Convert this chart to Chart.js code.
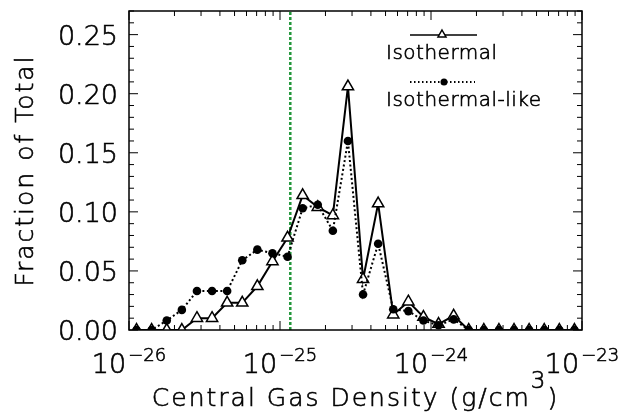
<!DOCTYPE html>
<html>
<head>
<meta charset="utf-8">
<script src="https://cdn.jsdelivr.net/npm/chart.js@4/dist/chart.umd.min.js"></script>
<style>
  html, body { margin: 0; padding: 0; background: #fff; }
</style>
</head>
<body>
<canvas id="c" width="628" height="414"></canvas>
<script>
// log10 of the bin centres (0.1 dex bins), g/cm^3
const binLog = [-25.95, -25.85, -25.75, -25.65, -25.55, -25.45, -25.35, -25.25, -25.15, -25.05,
                -24.95, -24.85, -24.75, -24.65, -24.55, -24.45, -24.35, -24.25, -24.15, -24.05,
                -23.95, -23.85, -23.75, -23.65, -23.55, -23.45, -23.35, -23.25, -23.15, -23.05];
const isothermal = [0, 0, 0, 0, 0.010, 0.010, 0.023, 0.023, 0.037, 0.058,
                    0.078, 0.114, 0.104, 0.097, 0.206, 0.043, 0.107, 0.013, 0.024, 0.011,
                    0.005, 0.012, 0, 0, 0, 0, 0, 0, 0, 0];
const isothermalLike = [0, 0, 0.008, 0.017, 0.033, 0.033, 0.033, 0.059, 0.068, 0.065,
                        0.062, 0.103, 0.106, 0.084, 0.160, 0.030, 0.073, 0.0175, 0.016, 0.008,
                        0.004, 0.009, 0, 0, 0, 0, 0, 0, 0, 0];
const densityCut = 1.17e-25;
const xDecades = [-26, -25, -24, -23];
const yMin = 0, yMax = 0.27, yStep = 0.05;

const FONT = "'DejaVu Sans'";
const W = '200 ';   // thin strokes like the IDL vector font
Chart.defaults.font.family = FONT;

const pts = arr => binLog.map((l, i) => ({ x: Math.pow(10, l), y: arr[i] }));

// fill + a hairline stroke so the extra-light face reads a bit darker
function text(ctx, s, x, y) {
  ctx.fillText(s, x, y);
  ctx.strokeText(s, x, y);
}

// box with inward ticks, IDL style, plus all labels, titles and legend
const idlAxes = {
  id: 'idlAxes',
  afterDatasetsDraw(chart) {
    const { ctx, chartArea: a, scales: { x, y } } = chart;
    ctx.save();
    ctx.strokeStyle = '#000';
    ctx.lineWidth = 1.5;
    ctx.strokeRect(a.left, a.top, a.right - a.left, a.bottom - a.top);

    ctx.lineWidth = 1;
    ctx.beginPath();
    for (let k = 0; k <= 27; k++) {
      const py = y.getPixelForValue(k / 100);
      const len = k % 5 === 0 ? 9 : 5;
      ctx.moveTo(a.left, py); ctx.lineTo(a.left + len, py);
      ctx.moveTo(a.right, py); ctx.lineTo(a.right - len, py);
    }
    for (let d = -26; d <= -23; d++) {
      for (let m = 1; m <= 9; m++) {
        if (d === -23 && m > 1) break;
        const px = x.getPixelForValue(m * Math.pow(10, d));
        const len = m === 1 ? 9 : 5;
        ctx.moveTo(px, a.bottom); ctx.lineTo(px, a.bottom - len);
        ctx.moveTo(px, a.top); ctx.lineTo(px, a.top + len);
      }
    }
    ctx.stroke();

    ctx.fillStyle = '#000';
    ctx.lineWidth = 0.6;
    ctx.textBaseline = 'alphabetic';

    // y tick labels from the scale's own ticks
    ctx.textAlign = 'right';
    ctx.font = W + '27px ' + FONT;
    y.ticks.forEach(t => {
      const py = y.getPixelForValue(t.value);
      text(ctx, t.value.toFixed(2), 118, py + 10);
    });

    // x tick labels: 10 with superscript exponent
    ctx.textAlign = 'left';
    xDecades.forEach(d => {
      const px = x.getPixelForValue(Math.pow(10, d));
      const exp = '\u2212' + Math.abs(d);
      ctx.font = W + '27px ' + FONT;
      const w1 = ctx.measureText('10').width;
      ctx.font = W + '18px ' + FONT;
      const w2 = ctx.measureText(exp).width;
      const x0 = px - (w1 + w2 + 2) / 2;
      ctx.font = W + '27px ' + FONT;
      text(ctx, '10', x0, 373);
      ctx.font = W + '18px ' + FONT;
      text(ctx, exp, x0 + w1 + 2, 361);
    });

    // x title with cm^3
    ctx.letterSpacing = '2px';
    ctx.font = W + '25px ' + FONT;
    const t1 = 'Central Gas Density (g/cm';
    const w1 = ctx.measureText(t1).width;
    const wp = ctx.measureText(')').width;
    ctx.font = W + '23px ' + FONT;
    const w3 = ctx.measureText('3').width;
    let tx = (a.left + a.right) / 2 - (w1 + w3 + wp) / 2;
    ctx.font = W + '25px ' + FONT;
    text(ctx, t1, tx, 406);
    ctx.font = W + '23px ' + FONT;
    text(ctx, '3', tx + w1, 388);
    ctx.font = W + '25px ' + FONT;
    text(ctx, ')', tx + w1 + w3, 406);

    // y title
    ctx.save();
    ctx.translate(33, (a.top + a.bottom) / 2);
    ctx.rotate(-Math.PI / 2);
    ctx.textAlign = 'center';
    text(ctx, 'Fraction of Total', 0, 0);
    ctx.restore();

    // legend
    ctx.letterSpacing = '0.5px';
    ctx.font = W + '20px ' + FONT;
    ctx.textAlign = 'left';
    text(ctx, 'Isothermal', 386, 59);
    text(ctx, 'Isothermal-like', 386, 106);

    ctx.beginPath();
    ctx.lineWidth = 1.5;
    ctx.moveTo(410, 35); ctx.lineTo(477, 35);
    ctx.stroke();
    ctx.beginPath();
    ctx.moveTo(442, 30); ctx.lineTo(446, 37); ctx.lineTo(438, 37); ctx.closePath();
    ctx.fillStyle = '#fff'; ctx.fill(); ctx.stroke();
    ctx.fillStyle = '#000';

    ctx.beginPath();
    ctx.setLineDash([1.5, 2.5]);
    ctx.lineWidth = 2;
    ctx.moveTo(410, 82); ctx.lineTo(475, 82);
    ctx.stroke();
    ctx.setLineDash([]);
    ctx.beginPath();
    ctx.arc(444, 82, 3.5, 0, Math.PI * 2);
    ctx.fill();
    ctx.restore();
  }
};

new Chart(document.getElementById('c'), {
  type: 'line',
  data: {
    datasets: [
      {
        label: 'Isothermal-like',
        data: pts(isothermalLike),
        borderColor: '#000',
        borderWidth: 2,
        borderDash: [2, 2.5],
        pointStyle: 'circle',
        pointRadius: 4.3,
        pointBackgroundColor: '#000',
        pointBorderWidth: 0,
        tension: 0
      },
      {
        label: 'Isothermal',
        data: pts(isothermal),
        borderColor: '#000',
        borderWidth: 2,
        pointStyle: 'triangle',
        pointRadius: 6.5,
        pointBackgroundColor: '#fff',
        pointBorderColor: '#000',
        pointBorderWidth: 1.5,
        tension: 0
      },
      {
        label: 'cut',
        data: [{ x: densityCut, y: yMin }, { x: densityCut, y: yMax }],
        borderColor: '#22963a',
        borderWidth: 2.5,
        borderDash: [3, 2],
        pointRadius: 0
      }
    ]
  },
  options: {
    responsive: false,
    animation: false,
    devicePixelRatio: 1,
    layout: { padding: { top: 11, right: 46, left: 0, bottom: 0 } },
    plugins: { legend: { display: false }, tooltip: { enabled: false } },
    scales: {
      x: {
        type: 'logarithmic',
        min: 1e-26,
        max: 1e-23,
        grid: { display: false, drawTicks: false },
        border: { display: false },
        ticks: { display: false },
        afterFit(s) { s.height = 84; }
      },
      y: {
        type: 'linear',
        min: yMin,
        max: yMax,
        grid: { display: false, drawTicks: false },
        border: { display: false },
        ticks: { display: false, stepSize: yStep, includeBounds: false },
        afterFit(s) { s.width = 129; }
      }
    }
  },
  plugins: [idlAxes]
});
</script>
</body>
</html>
